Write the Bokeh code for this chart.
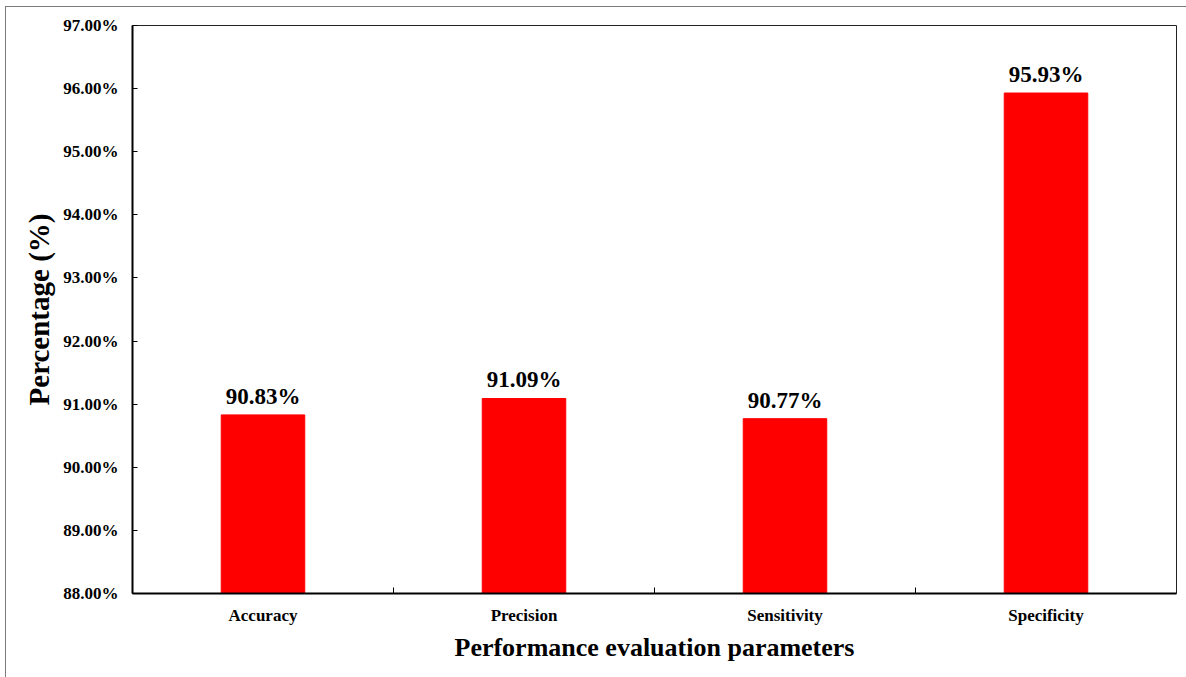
from bokeh.plotting import figure
from bokeh.models import Range1d, FixedTicker, NumeralTickFormatter, ColumnDataSource, LabelSet
from bokeh.embed import file_html
from bokeh.resources import INLINE

categories = ["Accuracy", "Precision", "Sensitivity", "Specificity"]
values = [0.9083, 0.9109, 0.9077, 0.9593]
y_ticks = [0.88, 0.89, 0.90, 0.91, 0.92, 0.93, 0.94, 0.95, 0.96, 0.97]

FONT = "Liberation Serif"

xs = [i + 0.5 for i in range(len(categories))]
labels = [f"{v*100:.2f}%" for v in values]
src = ColumnDataSource(dict(x=xs, top=values, label=labels))

p = figure(width=1181, height=671, output_backend="svg", toolbar_location=None,
           x_range=Range1d(0, len(categories)), y_range=Range1d(y_ticks[0], y_ticks[-1]),
           min_border_left=126, min_border_right=11, min_border_top=18, min_border_bottom=85,
           margin=(6, 0, 0, 5))
p.styles = {"border-left": "1px solid #7a7a7a", "border-top": "1px solid #7a7a7a"}

p.vbar(x="x", top="top", bottom=y_ticks[0], width=0.32, source=src,
       fill_color="#FF0000", line_color="#FF0000")
ls = LabelSet(x="x", y="top", text="label", source=src, text_font=FONT,
              text_font_style="bold", text_font_size="23px", text_align="center",
              text_baseline="alphabetic", y_offset=11, text_color="black")
p.add_layout(ls)

p.xgrid.visible = False
p.ygrid.visible = False
p.outline_line_color = "#222222"
p.outline_line_width = 1
p.background_fill_color = "white"
p.border_fill_color = "white"

xa = p.xaxis[0]
xa.ticker = FixedTicker(ticks=xs, minor_ticks=list(range(1, len(categories))))
xa.major_label_overrides = {x: c for x, c in zip(xs, categories)}
xa.major_tick_line_color = None
xa.minor_tick_in = 6
xa.minor_tick_out = 0
xa.minor_tick_line_color = "black"
xa.axis_line_width = 2
xa.axis_line_color = "black"
xa.major_label_text_font = FONT
xa.major_label_text_font_style = "bold"
xa.major_label_text_font_size = "17px"
xa.major_label_text_color = "black"
xa.major_label_standoff = 6
xa.axis_label = "Performance evaluation parameters"
xa.axis_label_text_font = FONT
xa.axis_label_text_font_style = "bold"
xa.axis_label_text_font_size = "26px"
xa.axis_label_text_color = "black"
xa.axis_label_standoff = 5

ya = p.yaxis[0]
ya.ticker = FixedTicker(ticks=y_ticks)
ya.formatter = NumeralTickFormatter(format="0.00%")
ya.major_tick_in = 5
ya.major_tick_out = 0
ya.minor_tick_line_color = None
ya.axis_line_width = 2
ya.axis_line_color = "black"
ya.major_label_text_font = FONT
ya.major_label_text_font_style = "bold"
ya.major_label_text_font_size = "17px"
ya.major_label_text_color = "black"
ya.major_label_standoff = 14
ya.axis_label = "Percentage (%)"
ya.axis_label_text_font = FONT
ya.axis_label_text_font_style = "bold"
ya.axis_label_text_font_size = "29px"
ya.axis_label_text_color = "black"
ya.axis_label_standoff = 5

open("out.html", "w").write(file_html(p, INLINE))
